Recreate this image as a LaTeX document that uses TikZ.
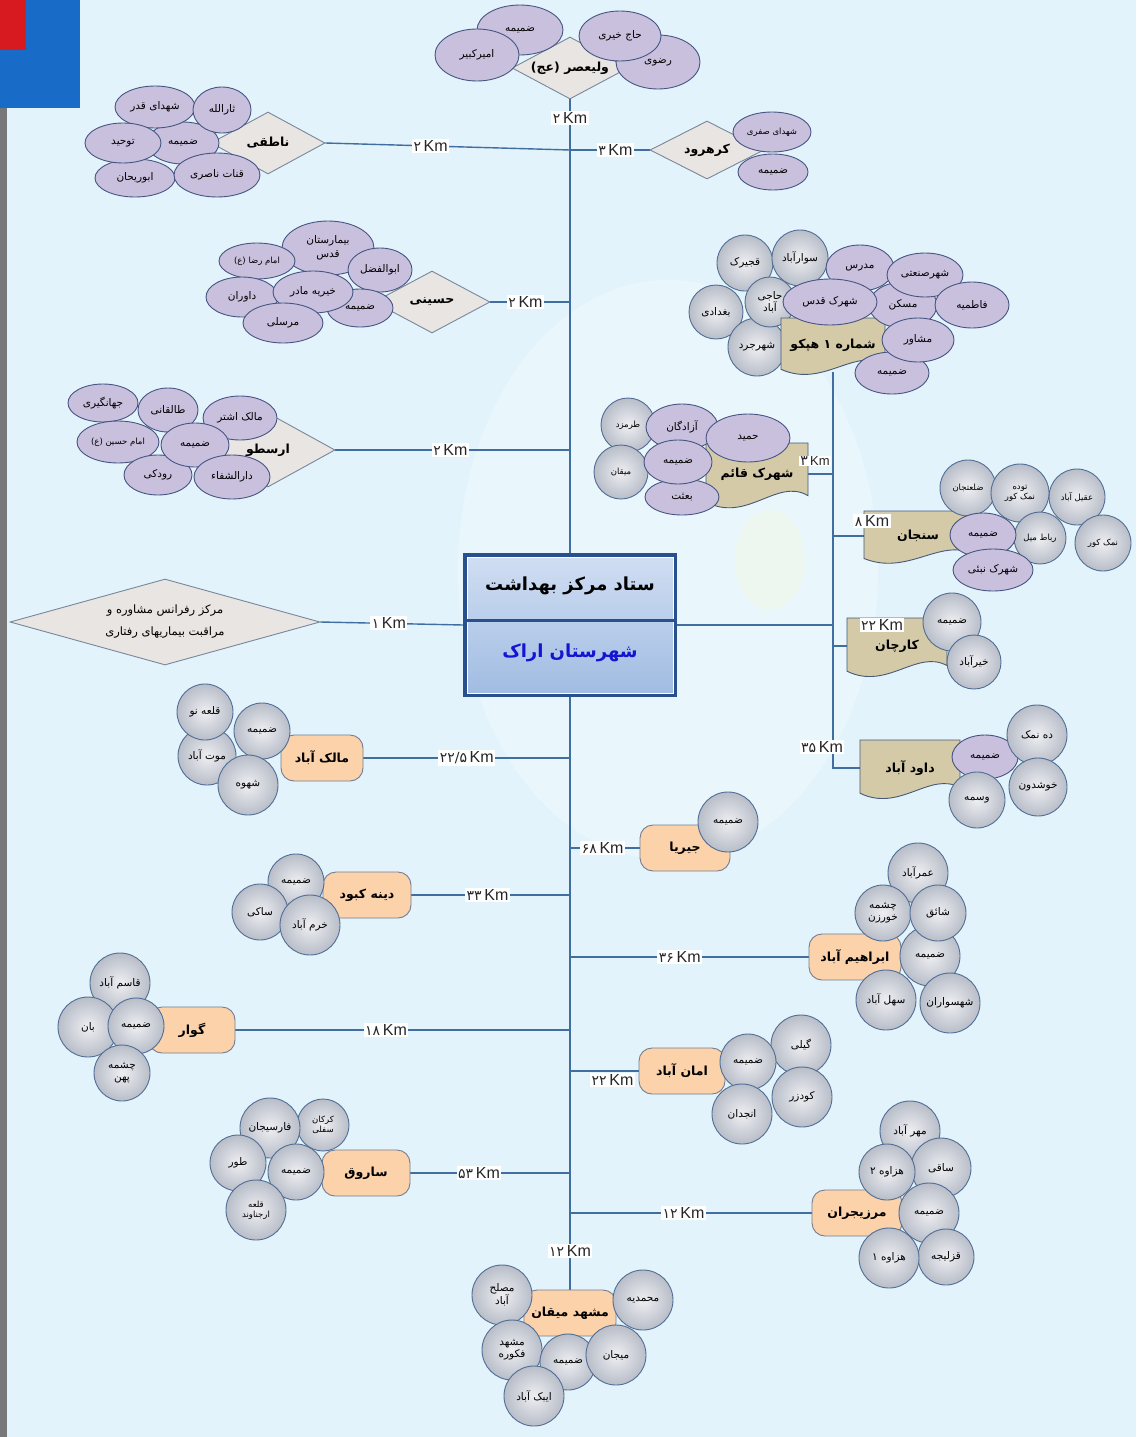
\documentclass[tikz,border=0pt]{standalone}
\usepackage{fontspec}
\setmainfont{Liberation Sans}
\newfontfamily\fa[Script=Arabic]{DejaVu Sans}
\TeXXeTstate=1
\usetikzlibrary{shapes.geometric}
\newcommand\rl[1]{\beginR #1\endR}
\newcommand\sfont{\fa\fontsize{10.5}{12}\selectfont}
\newcommand\tfont{\fa\fontsize{8.5}{10}\selectfont}
\newcommand\bfont{\fa\bfseries\fontsize{12.5}{14}\selectfont}
\newcommand\kd[1]{{\fa\fontsize{14}{16}\selectfont #1}}
\newcommand\kmt[1]{\kd{#1}\,Km}
\definecolor{bgc}{RGB}{226,243,251}
\definecolor{topblue}{RGB}{24,108,200}
\definecolor{topred}{RGB}{215,25,32}
\definecolor{leftgray}{RGB}{120,120,120}
\definecolor{pfill}{RGB}{201,192,222}
\definecolor{pbord}{RGB}{70,85,130}
\definecolor{gbord}{RGB}{80,110,150}
\definecolor{gin}{RGB}{238,239,242}
\definecolor{gout}{RGB}{184,189,200}
\definecolor{dfill}{RGB}{233,229,226}
\definecolor{dbord}{RGB}{120,135,155}
\definecolor{tfill}{RGB}{212,202,168}
\definecolor{tbord}{RGB}{70,90,120}
\definecolor{ofill}{RGB}{251,210,170}
\definecolor{obord}{RGB}{115,125,145}
\definecolor{linec}{RGB}{65,110,160}
\definecolor{hqbord}{RGB}{40,80,140}
\definecolor{hqtop}{RGB}{208,222,242}
\definecolor{hqbot}{RGB}{160,188,226}
\definecolor{hqtxt}{RGB}{20,20,210}
\pgfdeclarelayer{bglayer}
\pgfdeclarelayer{linelayer}
\pgfsetlayers{bglayer,linelayer,main}
\tikzset{
  pe/.style 2 args={ellipse, draw=pbord, fill=pfill, line width=0.9pt, inner sep=0pt, minimum width=#1pt, minimum height=#2pt, align=center, font=\sfont},
  gc/.style={circle, draw=gbord, line width=0.9pt, inner color=gin, outer color=gout, inner sep=0pt, minimum size=#1pt, align=center, font=\sfont},
  dia/.style={diamond, draw=dbord, fill=dfill, line width=0.9pt, aspect=1.9, inner sep=0pt, minimum width=116pt, minimum height=62pt, font=\bfont},
  bigdia/.style={diamond, draw=dbord, fill=dfill, line width=0.9pt, aspect=3.6, inner sep=0pt, minimum width=310pt, minimum height=86pt, align=center, font=\fa\fontsize{11.5}{22}\selectfont},
  obox/.style={rectangle, rounded corners=13pt, draw=obord, fill=ofill, line width=0.9pt, minimum width=#1pt, minimum height=46pt, inner sep=0pt, font=\bfont},
  doctext/.style={inner sep=0pt, font=\bfont},
  docsty/.style={draw=tbord, fill=tfill, line width=0.9pt},
  km/.style={fill=white, inner sep=1.5pt, font=\fontsize{16}{18}\selectfont, text=black!85},
  kms/.style={fill=white, inner sep=1pt, font=\fontsize{13}{15}\selectfont, text=black!85},
  trunk/.style={draw=linec, line width=2.2pt},
  branch/.style={draw=linec, line width=1.4pt},
  hqbox/.style={rectangle, draw=hqbord, line width=4pt, top color=hqtop, bottom color=hqbot, minimum width=210pt, minimum height=140pt, inner sep=0pt},
}
\newcommand\docshape[6]{%
  \filldraw[docsty] ({#2-#4/2},{#3-#5/2}) -- ({#2+#4/2},{#3-#5/2}) -- ({#2+#4/2},{#3+0.35*#5}) .. controls ({#2+0.2*#4},{#3+0.05*#5}) and ({#2-0.1*#4},{#3+0.8*#5}) .. ({#2-#4/2},{#3+0.45*#5}) -- cycle;
  \node[doctext, minimum width=#4pt, minimum height=#5pt] (#1) at (#2,#3) {#6};
}
\begin{document}
\begin{tikzpicture}[x=1pt,y=-1pt]
\begin{pgfonlayer}{bglayer}
\fill[bgc] (0,0) rectangle (1136,1437);
\fill[white,opacity=0.25] (668,570) ellipse [x radius=210pt, y radius=290pt];
\fill[yellow!25!white,opacity=0.2] (770,560) ellipse [x radius=35pt, y radius=50pt];
\fill[topblue] (0,0) rectangle (80,108);
\fill[topred] (0,0) rectangle (26,50);
\fill[leftgray] (0,108) rectangle (7,1437);
\end{pgfonlayer}
\useasboundingbox (0,0) rectangle (1136,1437);

% ---- Valiasr
\node[dia] (vali) at (570,68) {\rl{ولیعصر (عج)}};
\node[pe={86}{50}] (v2) at (520,30) {\rl{ضمیمه}};
\node[pe={84}{52}] (v1) at (477,55) {\rl{امیرکبیر}};
\node[pe={84}{54}] (v4) at (658,62) {\rl{رضوی}};
\node[pe={82}{50}] (v3) at (620,36) {\rl{حاج خیری}};

% ---- Nateqi
\node[dia, minimum width=114pt] (natiq) at (268,143) {\rl{ناطقی}};
\node[pe={72}{42}] (n1) at (183,143) {\rl{ضمیمه}};
\node[pe={80}{42}] (n2) at (155,107) {\rl{شهدای قدر}};
\node[pe={58}{46}] (n3) at (222,110) {\rl{ثارالله}};
\node[pe={80}{38}] (n4) at (135,178) {\rl{ابوریحان}};
\node[pe={76}{40}] (n5) at (123,143) {\rl{توحید}};
\node[pe={86}{44}] (n6) at (217,175) {\rl{قنات ناصری}};

% ---- Karahrud
\node[dia, minimum width=114pt, minimum height=58pt] (karah) at (707,150) {\rl{کرهرود}};
\node[pe={78}{40}, font=\tfont] (kr1) at (772,132) {\rl{شهدای صفری}};
\node[pe={70}{36}] (kr2) at (773,172) {\rl{ضمیمه}};

% ---- Hoseini
\node[dia] (hos) at (432,302) {\rl{حسینی}};
\node[pe={92}{54}] (h1) at (328,248) {\rl{بیمارستان}\\[2pt]\rl{قدس}};
\node[pe={76}{36}, font=\tfont] (h2) at (257,261) {\rl{امام رضا (ع)}};
\node[pe={64}{44}] (h3) at (380,270) {\rl{ابوالفضل}};
\node[pe={72}{40}] (h4) at (242,297) {\rl{داوران}};
\node[pe={66}{38}] (h5) at (360,308) {\rl{ضمیمه}};
\node[pe={80}{42}] (h6) at (313,292) {\rl{خیریه مادر}};
\node[pe={80}{40}] (h7) at (283,323) {\rl{مرسلی}};

% ---- Arastu
\node[dia, minimum width=134pt, minimum height=74pt] (arastu) at (268,450) {\rl{ارسطو}};
\node[pe={70}{38}] (a1) at (103,403) {\rl{جهانگیری}};
\node[pe={60}{44}] (a2) at (168,410) {\rl{طالقانی}};
\node[pe={74}{44}] (a3) at (240,418) {\rl{مالک اشتر}};
\node[pe={82}{42}, font=\tfont] (a4) at (118,442) {\rl{امام حسین (ع)}};
\node[pe={68}{40}] (a5) at (158,475) {\rl{رودکی}};
\node[pe={68}{44}] (a6) at (195,445) {\rl{ضمیمه}};
\node[pe={76}{44}] (a7) at (232,477) {\rl{دارالشفاء}};

% ---- Referral centre
\node[bigdia] (ref) at (165,622) {\rl{مرکز رفرانس مشاوره و}\\\rl{مراقبت بیماریهای رفتاری}};

% ---- HQ
\node[hqbox] (hq) at (570,625) {};
\coordinate (dv) at (0,620);
\draw[white, line width=0.8pt] ([shift={(4pt,-4pt)}]hq.north west) rectangle ([shift={(-4pt,4pt)}]hq.south east);
\draw[hqbord, line width=3pt] (hq.west |- dv) -- (hq.east |- dv);
\node[font=\fa\bfseries\fontsize{18}{20}\selectfont] (hqa) at (570,586) {\rl{ستاد مرکز بهداشت}};
\node[font=\fa\bfseries\fontsize{18}{20}\selectfont, text=hqtxt] (hqb) at (570,653) {\rl{شهرستان اراک}};

% ---- Hepko
\node[gc=56] (p1) at (745,263) {\rl{قجیرک}};
\node[gc=56] (p2) at (800,258) {\rl{سوارآباد}};
\node[gc=54] (p3) at (716,312) {\rl{بغدادی}};
\node[gc=58] (p4) at (757,347) {\rl{شهرجرد}};
\node[gc=50] (p5) at (770,302) {\rl{حاجی}\\\rl{آباد}};
\docshape{hepko}{833}{345}{104}{54}{\rl{شماره ۱ هپکو}}
\node[pe={68}{46}] (p6) at (903,305) {\rl{مسکن}};
\node[pe={68}{46}] (p7) at (860,268) {\rl{مدرس}};
\node[pe={76}{44}] (p8) at (925,275) {\rl{شهرصنعتی}};
\node[pe={74}{46}] (p9) at (972,305) {\rl{فاطمیه}};
\node[pe={94}{46}] (p10) at (830,302) {\rl{شهرک قدس}};
\node[pe={74}{42}] (p11) at (892,373) {\rl{ضمیمه}};
\node[pe={72}{44}] (p12) at (918,340) {\rl{مشاور}};

% ---- Shahrak Ghaem
\node[gc=54, font=\tfont] (q1) at (628,425) {\rl{طرمزد}};
\node[gc=54, font=\tfont] (q2) at (621,472) {\rl{میقان}};
\docshape{ghaem}{757}{474}{102}{62}{\rl{شهرک قائم}}
\node[pe={72}{46}] (q3) at (682,427) {\rl{آزادگان}};
\node[pe={74}{36}] (q4) at (682,497) {\rl{بعثت}};
\node[pe={68}{44}] (q5) at (678,462) {\rl{ضمیمه}};
\node[pe={84}{48}] (q6) at (748,438) {\rl{حمید}};

% ---- Sanjan
\docshape{sanjan}{918}{536}{108}{50}{\rl{سنجان}}
\node[gc=56, font=\tfont] (s1) at (968,488) {\rl{ضلعتجان}};
\node[gc=56, font=\tfont] (s2) at (1077,497) {\rl{عقیل آباد}};
\node[gc=58, font=\tfont] (s3) at (1020,493) {\rl{توده}\\\rl{نمک کور}};
\node[gc=56, font=\tfont] (s4) at (1103,543) {\rl{نمک کور}};
\node[gc=52, font=\tfont] (s5) at (1040,538) {\rl{رباط میل}};
\node[pe={66}{44}] (s6) at (983,535) {\rl{ضمیمه}};
\node[pe={80}{42}] (s7) at (993,570) {\rl{شهرک نبئی}};

% ---- Karchan
\docshape{karchan}{897}{646}{100}{56}{\rl{کارچان}}
\node[gc=58] (c1) at (952,622) {\rl{ضمیمه}};
\node[gc=54] (c2) at (974,662) {\rl{خیرآباد}};

% ---- Davud Abad
\docshape{davud}{910}{768}{100}{56}{\rl{داود آباد}}
\node[pe={66}{44}] (d1) at (985,757) {\rl{ضمیمه}};
\node[gc=60] (d2) at (1037,735) {\rl{ده نمک}};
\node[gc=58] (d3) at (1038,787) {\rl{خوشدون}};
\node[gc=56] (d4) at (977,800) {\rl{وسمه}};

% ---- Malek Abad
\node[obox=82] (malek) at (322,758) {\rl{مالک آباد}};
\node[gc=56] (m1) at (262,731) {\rl{ضمیمه}};
\node[gc=58] (m2) at (207,756) {\rl{موت آباد}};
\node[gc=56] (m3) at (205,712) {\rl{قلعه نو}};
\node[gc=60] (m4) at (248,785) {\rl{شهوه}};

% ---- Jiriya
\node[obox=90] (jir) at (685,848) {\rl{جیریا}};
\node[gc=60] (j1) at (728,822) {\rl{ضمیمه}};

% ---- Dineh Kabud
\node[obox=88] (dineh) at (367,895) {\rl{دینه کبود}};
\node[gc=56] (dk1) at (296,882) {\rl{ضمیمه}};
\node[gc=56] (dk2) at (260,912) {\rl{ساکی}};
\node[gc=60] (dk3) at (310,925) {\rl{خرم آباد}};

% ---- Ebrahim Abad
\node[obox=92] (ebr) at (855,957) {\rl{ابراهیم آباد}};
\node[gc=60] (e1) at (918,873) {\rl{عمرآباد}};
\node[gc=60] (e2) at (930,956) {\rl{ضمیمه}};
\node[gc=56] (e3) at (883,913) {\rl{چشمه}\\\rl{خورزن}};
\node[gc=56] (e4) at (938,913) {\rl{شائق}};
\node[gc=60] (e5) at (886,1000) {\rl{سهل آباد}};
\node[gc=60] (e6) at (950,1003) {\rl{شهسواران}};

% ---- Gavar
\node[obox=86] (gavar) at (192,1030) {\rl{گوار}};
\node[gc=60] (g1) at (120,983) {\rl{قاسم آباد}};
\node[gc=60] (g2) at (88,1027) {\rl{بان}};
\node[gc=56] (g3) at (136,1026) {\rl{ضمیمه}};
\node[gc=56] (g4) at (122,1073) {\rl{چشمه}\\\rl{پهن}};

% ---- Aman Abad
\node[obox=86] (aman) at (682,1071) {\rl{امان آباد}};
\node[gc=60] (am1) at (801,1045) {\rl{گیلی}};
\node[gc=60] (am2) at (802,1097) {\rl{کودزر}};
\node[gc=56] (am3) at (748,1062) {\rl{ضمیمه}};
\node[gc=60] (am4) at (742,1114) {\rl{انجدان}};

% ---- Saruq
\node[obox=88] (saruq) at (366,1173) {\rl{ساروق}};
\node[gc=52, font=\tfont] (sr1) at (323,1125) {\rl{کرکان}\\\rl{سفلی}};
\node[gc=60] (sr2) at (270,1128) {\rl{فارسیجان}};
\node[gc=56] (sr3) at (238,1163) {\rl{طور}};
\node[gc=56] (sr4) at (296,1172) {\rl{ضمیمه}};
\node[gc=60, font=\tfont] (sr5) at (256,1210) {\rl{قلعه}\\\rl{ارجناوند}};

% ---- Marzijaran
\node[obox=90] (marz) at (857,1213) {\rl{مرزیجران}};
\node[gc=60] (mz1) at (910,1131) {\rl{مهر آباد}};
\node[gc=60] (mz2) at (941,1168) {\rl{ساقی}};
\node[gc=56] (mz3) at (887,1172) {\rl{هزاوه ۲}};
\node[gc=60] (mz4) at (929,1213) {\rl{ضمیمه}};
\node[gc=56] (mz5) at (946,1257) {\rl{قزلیجه}};
\node[gc=60] (mz6) at (889,1258) {\rl{هزاوه ۱}};

% ---- Mashhad Miqan
\node[obox=92] (mash) at (570,1313) {\rl{مشهد میقان}};
\node[gc=60] (ms1) at (502,1295) {\rl{مصلح}\\\rl{آباد}};
\node[gc=60] (ms2) at (643,1300) {\rl{محمدیه}};
\node[gc=60] (ms3) at (512,1350) {\rl{مشهد}\\\rl{فکوره}};
\node[gc=56] (ms4) at (568,1362) {\rl{ضمیمه}};
\node[gc=60] (ms5) at (616,1355) {\rl{میجان}};
\node[gc=60] (ms6) at (534,1396) {\rl{ایبک آباد}};

% ---- separate distance labels on the right cluster
\node[kms] (k16) at (815,461) {\kmt{۳}};
\node[km] (k17) at (872,521) {\kmt{۸}};
\node[km] (k18) at (882,625) {\kmt{۲۲}};
\node[km] (k19) at (822,747) {\kmt{۳۵}};

% ---- connectors
\coordinate (tA) at (570,150);
\coordinate (tB) at (570,302);
\coordinate (tC) at (570,450);
\coordinate (tD) at (570,758);
\coordinate (tE) at (570,848);
\coordinate (tF) at (570,895);
\coordinate (tG) at (570,957);
\coordinate (tH) at (570,1030);
\coordinate (tI) at (570,1071);
\coordinate (tJ) at (570,1173);
\coordinate (tK) at (570,1213);
\begin{pgfonlayer}{linelayer}
\draw[trunk] (vali.south) -- node[km,pos=0.04] (k1) {\kmt{۲}} (hq.north);
\draw[trunk] (hq.south) -- node[km,pos=0.935] (k15) {\kmt{۱۲}} (mash.north);
\draw[branch] (natiq.east) -- node[km,pos=0.43] (k2) {\kmt{۲}} (tA);
\draw[branch] (tA) -- node[km,pos=0.57] (k3) {\kmt{۳}} (karah.west);
\draw[branch] (hos.east) -- node[km,pos=0.44] (k4) {\kmt{۲}} (tB);
\draw[branch] (arastu.east) -- node[km,pos=0.49] (k5) {\kmt{۲}} (tC);
\draw[branch] (ref.east) -- node[km,pos=0.48] (k6) {\kmt{۱}} (hq.west);
\draw[branch] (malek.east) -- node[km,pos=0.5] (k7) {\kmt{۲۲/۵}} (tD);
\draw[branch] (tE) -- node[km,pos=0.47] (k8) {\kmt{۶۸}} (jir.west);
\draw[branch] (dineh.east) -- node[km,pos=0.48] (k9) {\kmt{۳۳}} (tF);
\draw[branch] (tG) -- node[km,pos=0.46] (k10) {\kmt{۳۶}} (ebr.west);
\draw[branch] (gavar.east) -- node[km,pos=0.45] (k11) {\kmt{۱۸}} (tH);
\draw[branch] (tI) -- node[km,pos=0.62,below=1pt] (k12) {\kmt{۲۲}} (aman.west);
\draw[branch] (saruq.east) -- node[km,pos=0.43] (k13) {\kmt{۵۳}} (tJ);
\draw[branch] (tK) -- node[km,pos=0.47] (k14) {\kmt{۱۲}} (marz.west);
\draw[branch] (hq.east) -- (hq.east -| hepko.south);
\draw[branch] (hepko.south) |- (davud.west);
\draw[branch] (ghaem.east) -- (ghaem.east -| hepko.south);
\draw[branch] (sanjan.west -| hepko.south) -- (sanjan.west);
\draw[branch] (karchan.west -| hepko.south) -- (karchan.west);
\end{pgfonlayer}
\end{tikzpicture}
\end{document}
